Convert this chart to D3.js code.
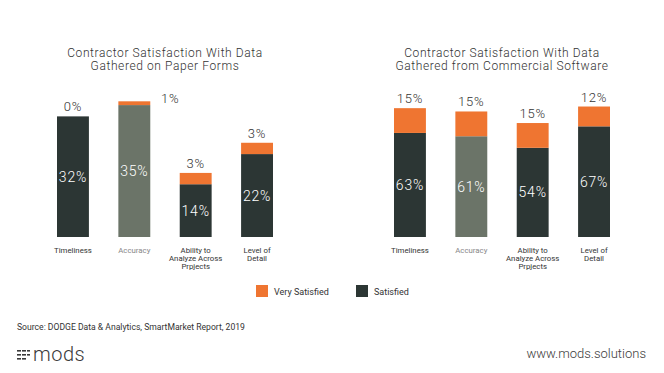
<!DOCTYPE html>
<html>
<head>
<meta charset="utf-8">
<script src="https://cdn.jsdelivr.net/npm/d3@7"></script>
<style>
  body { margin: 0; background: #fff; }
  svg { display: block; font-family: Roboto, "Noto Sans", sans-serif; }
</style>
</head>
<body>
<div id="chart"></div>
<script>
// categories and values
var categories = ["Timeliness", "Accuracy", "Ability to|Analyze Across|Prpjects", "Level of|Detail"];
var paperSatisfied = [32, 35, 14, 22];
var paperVery = [0, 1, 3, 3];
var softwareSatisfied = [63, 61, 54, 67];
var softwareVery = [15, 15, 15, 12];
var titlesPaper = ["Contractor Satisfaction With Data", "Gathered on Paper Forms"];
var titlesSoftware = ["Contractor Satisfaction With Data", "Gathered from Commercial Software"];
var legendItems = ["Very Satisfied", "Satisfied"];

var ORANGE = "#ef7531", DARK = "#2c3634", GREY = "#6b7468", TEXT = "#333";

var svg = d3.select("#chart").append("svg")
  .attr("width", 664)
  .attr("height", 373);

// draw one panel of stacked bars
function drawPanel(opts) {
  var g = svg.append("g");

  var x = d3.scaleBand()
    .domain(categories)
    .range([opts.x0, opts.x1])
    .paddingInner(0.48)
    .paddingOuter(0.0);

  var y = d3.scaleLinear()
    .domain([0, opts.max])
    .range([237, 90]);

  var data = categories.map(function (c, i) {
    return { cat: c, sat: opts.sat[i], very: opts.very[i] };
  });

  // titles
  g.selectAll(".title")
    .data(opts.title)
    .enter().append("text")
    .attr("x", (opts.x0 + opts.x1) / 2)
    .attr("y", function (d, i) { return 56.5 + i * 13.5; })
    .attr("text-anchor", "middle")
    .style("font-size", "12px")
    .style("font-weight", 300)
    .style("letter-spacing", "0.6px")
    .style("fill", TEXT)
    .text(function (d) { return d; });

  // satisfied bars
  g.selectAll(".sat")
    .data(data)
    .enter().append("rect")
    .attr("x", function (d) { return x(d.cat); })
    .attr("width", x.bandwidth())
    .attr("y", function (d) { return y(d.sat); })
    .attr("height", function (d) { return y(0) - y(d.sat); })
    .style("fill", function (d) { return d.cat == "Accuracy" ? GREY : DARK; });

  // very satisfied on top
  g.selectAll(".very")
    .data(data)
    .enter().append("rect")
    .attr("x", function (d) { return x(d.cat); })
    .attr("width", x.bandwidth())
    .attr("y", function (d) { return y(d.sat + d.very); })
    .attr("height", function (d) { return y(d.sat) - y(d.sat + d.very); })
    .style("fill", ORANGE);

  // labels inside the dark part
  g.selectAll(".inlab")
    .data(data)
    .enter().append("text")
    .attr("x", function (d) { return x(d.cat) + x.bandwidth() / 2; })
    .attr("y", function (d) { return (y(d.sat) + y(0)) / 2 + 5; })
    .attr("text-anchor", "middle")
    .style("font-size", "14px")
    .style("font-weight", 300)
    .style("letter-spacing", "0.8px")
    .style("fill", "#fff")
    .text(function (d) { return d.sat + "%"; });

  // labels above the bar (tiny values go to the side)
  g.selectAll(".toplab")
    .data(data)
    .enter().append("text")
    .attr("x", function (d) {
      var side = d.very > 0 && d.very < 2;
      return x(d.cat) + x.bandwidth() / 2 + (side ? x.bandwidth() + 4 : 0);
    })
    .attr("y", function (d) {
      var side = d.very > 0 && d.very < 2;
      return side ? y(d.sat + d.very) + 2 : y(d.sat + d.very) - 5;
    })
    .attr("text-anchor", "middle")
    .style("font-size", "13px")
    .style("font-weight", 300)
    .style("letter-spacing", "0.8px")
    .style("fill", TEXT)
    .text(function (d) { return d.very + "%"; });

  // category labels
  var cl = g.selectAll(".cat")
    .data(data)
    .enter().append("text")
    .attr("text-anchor", "middle")
    .style("font-size", "7.8px")
    .style("font-weight", 400)
    .style("fill", function (d) { return d.cat == "Accuracy" ? "#888" : TEXT; });

  cl.selectAll("tspan")
    .data(function (d) {
      return d.cat.split("|").map(function (t) { return { t: t, cx: x(d.cat) + x.bandwidth() / 2 }; });
    })
    .enter().append("tspan")
    .attr("x", function (d) { return d.cx; })
    .attr("y", function (d, i) { return 253 + i * 8; })
    .text(function (d) { return d.t; });
}

drawPanel({ x0: 57, x1: 273, max: 39, sat: paperSatisfied, very: paperVery, title: titlesPaper });
drawPanel({ x0: 394, x1: 610, max: 89, sat: softwareSatisfied, very: softwareVery, title: titlesSoftware });

// legend
var legend = svg.append("g").selectAll("g")
  .data(legendItems)
  .enter().append("g")
  .attr("transform", function (d, i) { return "translate(" + (256 + i * 100) + ",285)"; });

legend.append("rect")
  .attr("width", 12)
  .attr("height", 12)
  .style("fill", function (d, i) { return i == 0 ? ORANGE : DARK; });

legend.append("text")
  .attr("x", 18)
  .attr("y", 9.5)
  .style("font-size", "9px")
  .style("fill", TEXT)
  .text(function (d) { return d; });

// source
svg.append("text")
  .attr("x", 17)
  .attr("y", 330)
  .style("font-size", "8.6px")
  .style("fill", TEXT)
  .text("Source: DODGE Data & Analytics, SmartMarket Report, 2019");

// logo: little dash grid + "mods"
var logo = svg.append("g").attr("transform", "translate(17,347)");
var dashRows = [[0, 1, 2], [0, 1, 2], [0, 1]];
dashRows.forEach(function (row, r) {
  row.forEach(function (c) {
    logo.append("rect")
      .attr("x", c * 5)
      .attr("y", 3 + r * 4)
      .attr("width", c == 2 ? 3 : 4)
      .attr("height", 1.6)
      .style("fill", "#3a3a3a");
  });
});
logo.append("text")
  .attr("x", 16)
  .attr("y", 13.5)
  .style("font-size", "20px")
  .style("font-weight", 300)
  .style("letter-spacing", "0.5px")
  .style("fill", "#3a3a3a")
  .text("mods");

svg.append("text")
  .attr("x", 646)
  .attr("y", 358)
  .attr("text-anchor", "end")
  .style("font-size", "13px")
  .style("font-weight", 300)
  .style("fill", "#3a3a3a")
  .text("www.mods.solutions");
</script>
</body>
</html>
